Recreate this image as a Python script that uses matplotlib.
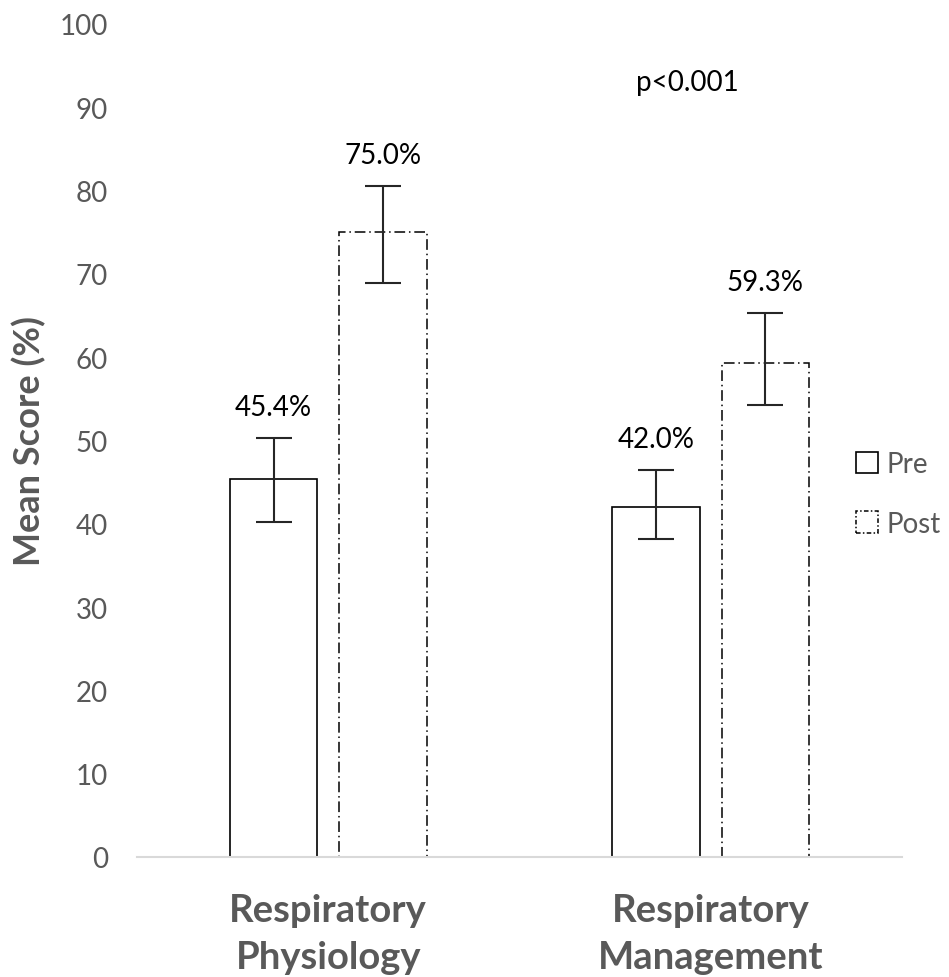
import numpy as np
import matplotlib.pyplot as plt
from matplotlib.patches import Patch

categories = ['Respiratory\nPhysiology', 'Respiratory\nManagement']
pre_scores = [45.4, 42.0]
post_scores = [75.0, 59.3]
pre_err_low = [5.2, 3.8]
pre_err_high = [4.9, 4.5]
post_err_low = [6.1, 5.0]
post_err_high = [5.6, 6.0]

grey = '#595959'
plt.rcParams['font.family'] = ['Lato', 'DejaVu Sans']

fig = plt.figure(figsize=(9.49, 9.78), dpi=100)
ax = fig.add_axes([137 / 949, 1 - 858 / 978, 765 / 949, 833 / 978])

x = np.arange(len(categories))
w = 0.228
off = 0.143

# bars
ax.bar(x - off, pre_scores, w, facecolor='white', edgecolor='black', linewidth=1.2)
ax.bar(x + off, post_scores, w, facecolor='white', edgecolor='black', linewidth=1.1,
       linestyle=(0, (7, 2.5, 1, 2.5)))

# error bars
ax.errorbar(x - off, pre_scores, yerr=[pre_err_low, pre_err_high], fmt='none',
            ecolor='#262626', elinewidth=1.5, capsize=13, capthick=1.5)
ax.errorbar(x + off, post_scores, yerr=[post_err_low, post_err_high], fmt='none',
            ecolor='#262626', elinewidth=1.5, capsize=13, capthick=1.5)

# value labels above error bars
for xi, v, e in zip(x - off, pre_scores, pre_err_high):
    ax.annotate(f'{v:.1f}%', (xi, v + e), xytext=(0, 22), textcoords='offset points',
                ha='center', va='center', fontsize=20, color='black')
for xi, v, e in zip(x + off, post_scores, post_err_high):
    ax.annotate(f'{v:.1f}%', (xi, v + e), xytext=(0, 22), textcoords='offset points',
                ha='center', va='center', fontsize=20, color='black')

ax.text(0.72, 0.93, 'p<0.001', transform=ax.transAxes, ha='center', va='center',
        fontsize=20, color='black')

ax.set_xlim(-0.5, 1.5)
ax.set_ylim(0, 100)
ax.set_yticks(np.arange(0, 101, 10))
ax.set_xticks(x)
ax.set_xticklabels(categories, fontsize=27.5, fontweight='bold', color=grey, linespacing=1.45)
ax.tick_params(axis='y', length=0, labelsize=20, labelcolor=grey, pad=21)
ax.tick_params(axis='x', length=0, pad=26)
ax.set_ylabel('Mean Score (%)', fontsize=26, fontweight='bold', color=grey)
ax.yaxis.set_label_coords(-0.118, 0.5)

for s in ['top', 'right', 'left']:
    ax.spines[s].set_visible(False)
ax.spines['bottom'].set_color('#d9d9d9')
ax.spines['bottom'].set_linewidth(1.5)

handles = [Patch(facecolor='white', edgecolor='black', linewidth=1.2, label='Pre'),
           Patch(facecolor='white', edgecolor='black', linewidth=1.1,
                 linestyle=(0, (3, 1.5, 1, 1.5)), label='Post')]
fig.legend(handles=handles, loc='center left', bbox_to_anchor=(845 / 949, 1 - 495 / 978),
           frameon=False, fontsize=20, labelcolor=grey, handlelength=0.8, handleheight=0.8,
           handletextpad=0.3, labelspacing=1.2, borderaxespad=0)

fig.savefig('out.png', dpi=100)
